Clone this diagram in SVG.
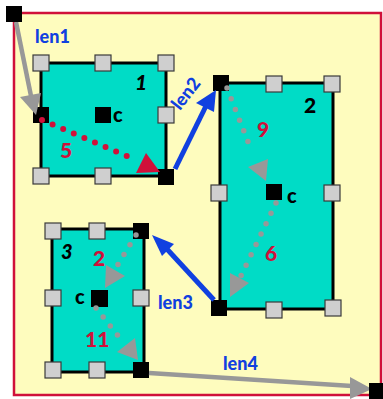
<svg xmlns="http://www.w3.org/2000/svg" width="383" height="399" viewBox="0 0 383 399">
<style>
.frame{fill:#FEFCBE;stroke:#D0103A;stroke-width:2.5}
.box{fill:#00DCC6;stroke:#000;stroke-width:3}
.h{fill:#CFCFCF;stroke:#3a3a3a;stroke-width:1.2}
.k{fill:#000}
.t{font-family:Lato,"Open Sans","DejaVu Sans",sans-serif;font-weight:900}
.lbl{font-size:20px;fill:#000}
.it{font-style:italic;font-size:21px;fill:#000}
.num{font-size:21px;fill:#D0103A}
.len{font-size:18px;fill:#1040E0}
.gl{stroke:#989898;stroke-width:4.5;fill:none}
.ga{fill:#989898}
.gd{stroke:#989898;stroke-width:5.5;stroke-linecap:round;stroke-dasharray:0 11.5;fill:none}
.rd{stroke:#D0103A;stroke-width:6;stroke-linecap:round;stroke-dasharray:0 11.5;fill:none}
.ra{fill:#D0103A}
.bl{stroke:#1040E0;stroke-width:5;fill:none}
.ba{fill:#1040E0}
</style>
<rect class="frame" x="14" y="13" width="367" height="382"/>

<g id="node1">
  <rect class="box" x="41" y="63" width="125" height="113"/>
  <rect class="h" x="33" y="55" width="16" height="16"/>
  <rect class="h" x="95" y="55" width="16" height="16"/>
  <rect class="h" x="158" y="55" width="16" height="16"/>
  <rect class="h" x="158" y="107" width="16" height="16"/>
  <rect class="h" x="33" y="168" width="16" height="16"/>
  <rect class="h" x="95" y="168" width="16" height="16"/>
  <rect class="k" x="33" y="107" width="16" height="16"/>
  <rect class="k" x="158" y="169" width="16" height="16"/>
  <rect class="k" x="95" y="107" width="16" height="16"/>
  <text class="t lbl" x="113" y="122">c</text>
  <text class="t it" x="135" y="90">1</text>
</g>

<g id="node2">
  <rect class="box" x="220" y="83" width="113" height="226"/>
  <rect class="h" x="266" y="76" width="16" height="16"/>
  <rect class="h" x="324" y="76" width="16" height="16"/>
  <rect class="h" x="211" y="185" width="16" height="16"/>
  <rect class="h" x="324" y="185" width="16" height="16"/>
  <rect class="h" x="266" y="302" width="16" height="16"/>
  <rect class="h" x="325" y="300" width="16" height="16"/>
  <rect class="k" x="213" y="75" width="16" height="16"/>
  <rect class="k" x="266" y="184" width="16" height="16"/>
  <rect class="k" x="211" y="300" width="16" height="16"/>
  <text class="t lbl" x="287" y="203">c</text>
  <text class="t lbl" x="304" y="113" style="font-size:21px">2</text>
</g>

<g id="node3">
  <rect class="box" x="52" y="229" width="92" height="143"/>
  <rect class="h" x="45" y="223" width="16" height="16"/>
  <rect class="h" x="89" y="223" width="16" height="16"/>
  <rect class="h" x="45" y="290" width="16" height="16"/>
  <rect class="h" x="133" y="290" width="16" height="16"/>
  <rect class="h" x="45" y="362" width="16" height="16"/>
  <rect class="h" x="89" y="362" width="16" height="16"/>
  <rect class="k" x="133" y="223" width="16" height="16"/>
  <rect class="k" x="91" y="290" width="17" height="17"/>
  <rect class="k" x="133" y="362" width="16" height="16"/>
  <text class="t lbl" x="75" y="304">c</text>
  <text class="t it" x="61" y="259" style="font-size:20px">3</text>
</g>

<g id="connectors">
  <line class="gl" x1="16" y1="22" x2="31" y2="96"/>
  <polygon class="ga" points="20,97 41,93 36,115"/>
  <line class="rd" x1="42" y1="120" x2="134" y2="159"/>
  <polygon class="ra" points="136,173 146,153 160,172"/>
  <line class="bl" x1="175" y1="169" x2="206" y2="106"/>
  <polygon class="ba" points="216,90 196,103 214,112"/>
  <line class="gd" x1="227" y1="88" x2="252" y2="152"/>
  <polygon class="ga" points="248,167 268,159 266,181"/>
  <line class="gd" x1="276" y1="203" x2="239" y2="280"/>
  <polygon class="ga" points="230,273 249,283 230,297"/>
  <line class="bl" x1="214" y1="300" x2="166" y2="248"/>
  <polygon class="ba" points="152,235 174,244 162,256"/>
  <line class="gd" x1="136" y1="235" x2="117" y2="266"/>
  <polygon class="ga" points="106,265 125,276 105,288"/>
  <line class="gd" x1="96" y1="308" x2="119" y2="337"/>
  <polygon class="ga" points="117,352 135,338 138,360"/>
  <line class="gl" x1="149" y1="373" x2="352" y2="386"/>
  <polygon class="ga" points="350,377 372,389 350,399"/>
  <text class="t len" x="35" y="43">len1</text>
  <text class="t len" x="0" y="0" transform="translate(180,111) rotate(-52)">len2</text>
  <text class="t len" x="158" y="309">len3</text>
  <text class="t len" x="223" y="370">len4</text>
  <text class="t num" x="60" y="158">5</text>
  <text class="t num" x="257" y="137">9</text>
  <text class="t num" x="265" y="261">6</text>
  <text class="t num" x="93" y="266">2</text>
  <text class="t num" x="85" y="347">11</text>
</g>

<rect class="k" x="6" y="6" width="16" height="16"/>
<rect class="k" x="369" y="383" width="16" height="16"/>
</svg>
